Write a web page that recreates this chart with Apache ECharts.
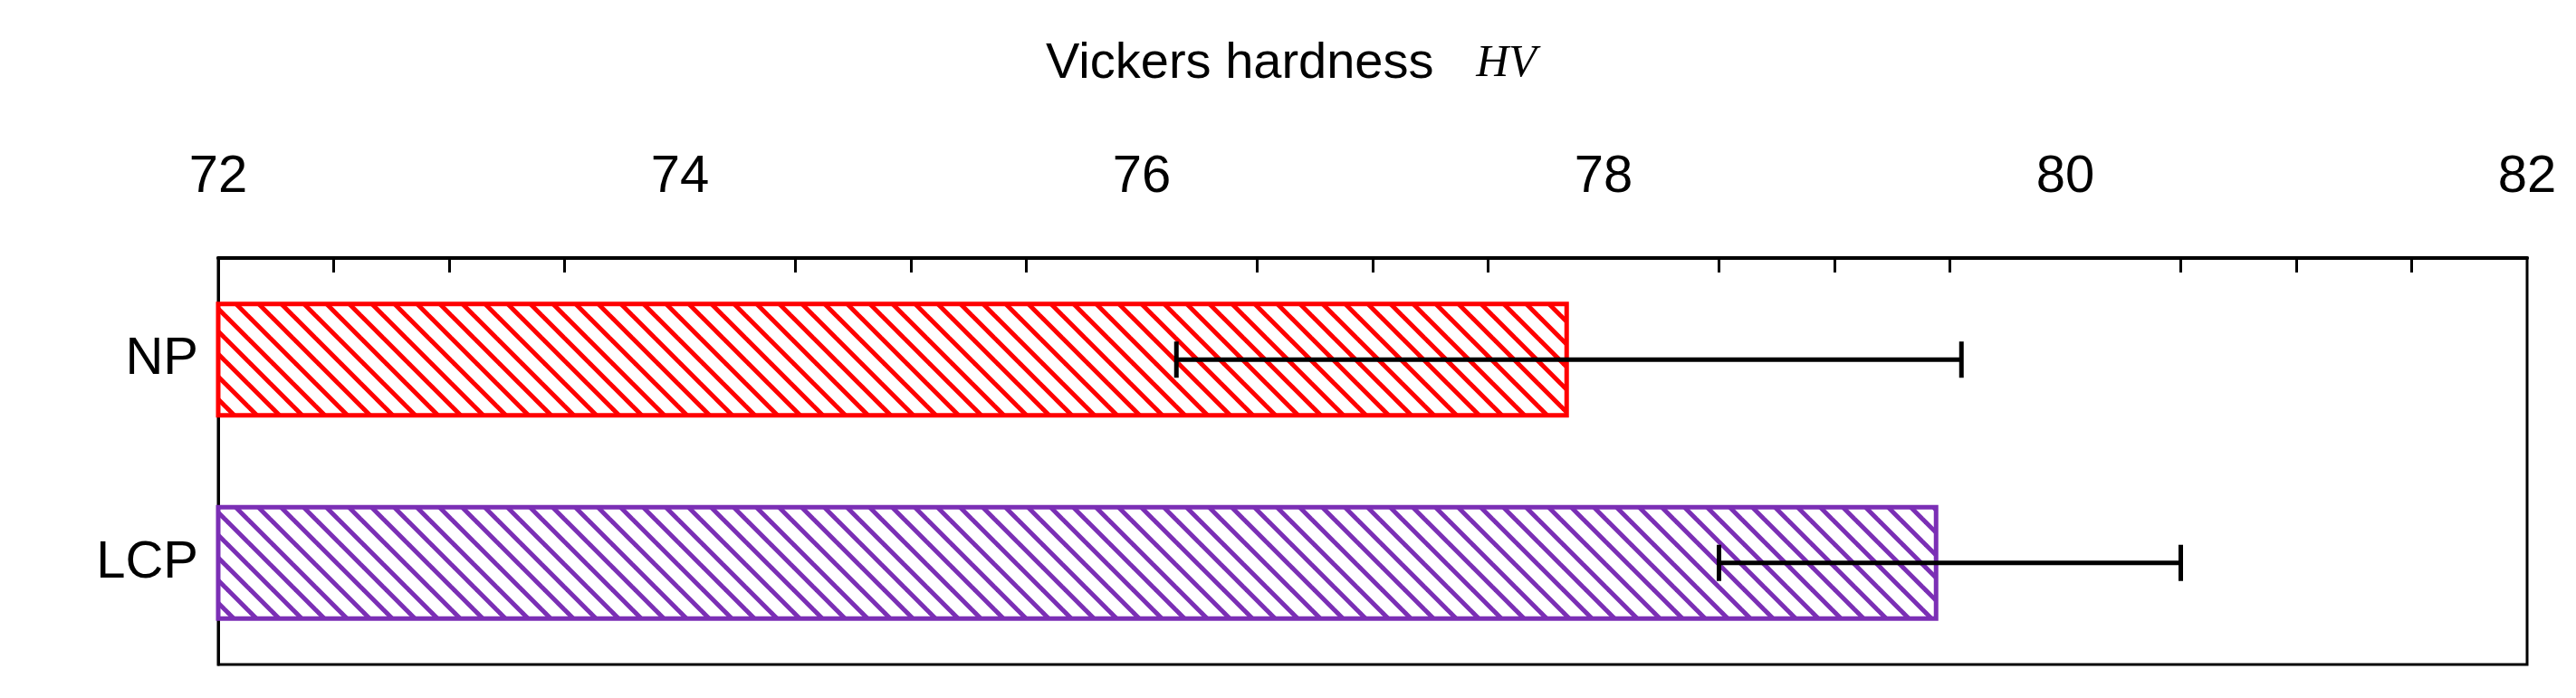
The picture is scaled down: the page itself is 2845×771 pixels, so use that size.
<!DOCTYPE html>
<html><head><meta charset="utf-8">
<script src="https://cdn.jsdelivr.net/npm/echarts@6/dist/echarts.min.js"></script>
<style>html,body{margin:0;background:#fff}#main{width:2845px;height:771px}</style>
</head><body><div id="main"></div>
<script>
let categories = ['NP', 'LCP'];
let hardness = [77.85, 79.45];
let errLow = [76.15, 78.5];
let errHigh = [79.55, 80.5];
let barColors = ['#ff0000', '#7b2fb5'];

function hatch(color) {
    let c = document.createElement('canvas');
    c.width = 25; c.height = 25;
    let g = c.getContext('2d');
    g.strokeStyle = color; g.lineWidth = 5;
    for (let k = -1; k <= 1; k++) {
        g.beginPath();
        g.moveTo(k * 25 - 5, -5);
        g.lineTo(k * 25 + 30, 30);
        g.stroke();
    }
    return { image: c, repeat: 'repeat' };
}

let chart = echarts.init(document.getElementById('main'));
let font = 'Liberation Sans, Arial, sans-serif';
chart.setOption({
    animation: false,
    title: {
        text: 'Vickers hardness   {i|HV}',
        left: 1150, top: 38,
        textStyle: { fontFamily: font, fontSize: 56, fontWeight: 'normal', color: '#000',
            rich: { i: { fontFamily: 'Liberation Serif', fontStyle: 'italic', fontSize: 50, color: '#000' } } }
    },
    grid: { left: 241, right: 54, top: 285, bottom: 37, show: true, borderColor: '#000', borderWidth: 3 },
    xAxis: {
        type: 'value', position: 'top', min: 72, max: 82, interval: 2,
        axisLine: { show: true, lineStyle: { color: '#000', width: 4 } },
        axisTick: { inside: true, length: 16, lineStyle: { color: '#000', width: 3 } },
        minorTick: { show: true, splitNumber: 4, length: 16, lineStyle: { color: '#000', width: 3 } },
        splitLine: { show: false },
        axisLabel: { fontFamily: font, fontSize: 58, color: '#000', margin: 60 }
    },
    yAxis: {
        type: 'category', data: categories, inverse: true,
        axisLine: { lineStyle: { color: '#000', width: 3 } },
        axisTick: { show: false },
        axisLabel: { fontFamily: font, fontSize: 58, color: '#000', margin: 22 }
    },
    series: [{
        type: 'bar', barWidth: '57%',
        data: hardness.map((v, i) => ({
            value: v,
            itemStyle: { color: hatch(barColors[i]), borderColor: barColors[i], borderWidth: 5 }
        }))
    }, {
        type: 'custom',
        data: categories.map((c, i) => [errLow[i], errHigh[i], i]),
        renderItem: function (params, api) {
            let a = api.coord([api.value(0), api.value(2)]);
            let b = api.coord([api.value(1), api.value(2)]);
            let h = 20;
            let st = { stroke: '#000', lineWidth: 5 };
            return { type: 'group', children: [
                { type: 'line', shape: { x1: a[0], y1: a[1], x2: b[0], y2: b[1] }, style: st },
                { type: 'line', shape: { x1: a[0], y1: a[1] - h, x2: a[0], y2: a[1] + h }, style: st },
                { type: 'line', shape: { x1: b[0], y1: b[1] - h, x2: b[0], y2: b[1] + h }, style: st }
            ] };
        },
        z: 10
    }]
});
</script></body></html>
